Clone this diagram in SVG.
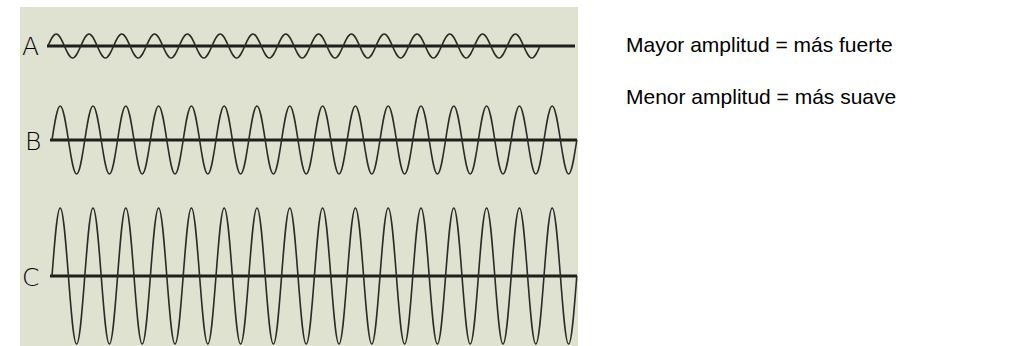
<svg xmlns="http://www.w3.org/2000/svg" width="1036" height="346" viewBox="0 0 1036 346">
<style>
.panel{fill:#e0e2d1}
.base{stroke:#1e1e1a;stroke-width:3;fill:none}
.wave{stroke:#2b2b26;stroke-width:1.6;fill:none}
.lbl{font-family:"DejaVu Sans","Liberation Sans",sans-serif;font-size:25px;fill:#000;font-weight:300}
.txt{font-family:"Liberation Sans",Arial,sans-serif;font-size:21px;fill:#000}
</style>
<rect width="1036" height="346" fill="#ffffff"/>
<rect class="panel" x="20" y="7" width="558" height="339"/>
<g id="wave-A">
<text class="lbl" x="22" y="55">A</text>
<line class="base" x1="47" y1="46" x2="575" y2="46"/>
<path class="wave" d="M48,46 c2.67,-6.15 5.23,-12 8.2,-12 s5.53,5.85 8.2,12 s5.23,12 8.2,12 s5.53,-5.85 8.2,-12 s5.23,-12 8.2,-12 s5.53,5.85 8.2,12 s5.23,12 8.2,12 s5.53,-5.85 8.2,-12 s5.23,-12 8.2,-12 s5.53,5.85 8.2,12 s5.23,12 8.2,12 s5.53,-5.85 8.2,-12 s5.23,-12 8.2,-12 s5.53,5.85 8.2,12 s5.23,12 8.2,12 s5.53,-5.85 8.2,-12 s5.23,-12 8.2,-12 s5.53,5.85 8.2,12 s5.23,12 8.2,12 s5.53,-5.85 8.2,-12 s5.23,-12 8.2,-12 s5.53,5.85 8.2,12 s5.23,12 8.2,12 s5.53,-5.85 8.2,-12 s5.23,-12 8.2,-12 s5.53,5.85 8.2,12 s5.23,12 8.2,12 s5.53,-5.85 8.2,-12 s5.23,-12 8.2,-12 s5.53,5.85 8.2,12 s5.23,12 8.2,12 s5.53,-5.85 8.2,-12 s5.23,-12 8.2,-12 s5.53,5.85 8.2,12 s5.23,12 8.2,12 s5.53,-5.85 8.2,-12 s5.23,-12 8.2,-12 s5.53,5.85 8.2,12 s5.23,12 8.2,12 s5.53,-5.85 8.2,-12 s5.23,-12 8.2,-12 s5.53,5.85 8.2,12 s5.23,12 8.2,12 s5.53,-5.85 8.2,-12 s5.23,-12 8.2,-12 s5.53,5.85 8.2,12 s5.23,12 8.2,12 s5.53,-5.85 8.2,-12 s5.23,-12 8.2,-12 s5.53,5.85 8.2,12 s5.23,12 8.2,12 s5.53,-5.85 8.2,-12 s5.23,-12 8.2,-12 s5.53,5.85 8.2,12 s5.23,12 8.2,12 s5.53,-5.85 8.2,-12 s5.23,-12 8.2,-12 s5.53,5.85 8.2,12 s5.23,12 8.2,12 s5.53,-5.85 8.2,-12"/>
</g>
<g id="wave-B">
<text class="lbl" x="25" y="150">B</text>
<line class="base" x1="50" y1="140" x2="577" y2="140"/>
<path class="wave" d="M52,140 c2.67,-17.42 5.23,-34 8.2,-34 s5.53,16.58 8.2,34 s5.23,34 8.2,34 s5.53,-16.58 8.2,-34 s5.23,-34 8.2,-34 s5.53,16.58 8.2,34 s5.23,34 8.2,34 s5.53,-16.58 8.2,-34 s5.23,-34 8.2,-34 s5.53,16.58 8.2,34 s5.23,34 8.2,34 s5.53,-16.58 8.2,-34 s5.23,-34 8.2,-34 s5.53,16.58 8.2,34 s5.23,34 8.2,34 s5.53,-16.58 8.2,-34 s5.23,-34 8.2,-34 s5.53,16.58 8.2,34 s5.23,34 8.2,34 s5.53,-16.58 8.2,-34 s5.23,-34 8.2,-34 s5.53,16.58 8.2,34 s5.23,34 8.2,34 s5.53,-16.58 8.2,-34 s5.23,-34 8.2,-34 s5.53,16.58 8.2,34 s5.23,34 8.2,34 s5.53,-16.58 8.2,-34 s5.23,-34 8.2,-34 s5.53,16.58 8.2,34 s5.23,34 8.2,34 s5.53,-16.58 8.2,-34 s5.23,-34 8.2,-34 s5.53,16.58 8.2,34 s5.23,34 8.2,34 s5.53,-16.58 8.2,-34 s5.23,-34 8.2,-34 s5.53,16.58 8.2,34 s5.23,34 8.2,34 s5.53,-16.58 8.2,-34 s5.23,-34 8.2,-34 s5.53,16.58 8.2,34 s5.23,34 8.2,34 s5.53,-16.58 8.2,-34 s5.23,-34 8.2,-34 s5.53,16.58 8.2,34 s5.23,34 8.2,34 s5.53,-16.58 8.2,-34 s5.23,-34 8.2,-34 s5.53,16.58 8.2,34 s5.23,34 8.2,34 s5.53,-16.58 8.2,-34 s5.23,-34 8.2,-34 s5.53,16.58 8.2,34 s5.23,34 8.2,34 s5.53,-16.58 8.2,-34 s5.23,-34 8.2,-34 s5.53,16.58 8.2,34 s5.23,34 8.2,34 s5.53,-16.58 8.2,-34 s5.23,-34 8.2,-34 s5.53,16.58 8.2,34 s5.23,34 8.2,34 s5.53,-16.58 8.2,-34"/>
</g>
<g id="wave-C">
<text class="lbl" x="22" y="286">C</text>
<line class="base" x1="50" y1="276" x2="577" y2="276"/>
<path class="wave" d="M52,276 c2.67,-34.84 5.23,-68 8.2,-68 s5.53,33.16 8.2,68 s5.23,68 8.2,68 s5.53,-33.16 8.2,-68 s5.23,-68 8.2,-68 s5.53,33.16 8.2,68 s5.23,68 8.2,68 s5.53,-33.16 8.2,-68 s5.23,-68 8.2,-68 s5.53,33.16 8.2,68 s5.23,68 8.2,68 s5.53,-33.16 8.2,-68 s5.23,-68 8.2,-68 s5.53,33.16 8.2,68 s5.23,68 8.2,68 s5.53,-33.16 8.2,-68 s5.23,-68 8.2,-68 s5.53,33.16 8.2,68 s5.23,68 8.2,68 s5.53,-33.16 8.2,-68 s5.23,-68 8.2,-68 s5.53,33.16 8.2,68 s5.23,68 8.2,68 s5.53,-33.16 8.2,-68 s5.23,-68 8.2,-68 s5.53,33.16 8.2,68 s5.23,68 8.2,68 s5.53,-33.16 8.2,-68 s5.23,-68 8.2,-68 s5.53,33.16 8.2,68 s5.23,68 8.2,68 s5.53,-33.16 8.2,-68 s5.23,-68 8.2,-68 s5.53,33.16 8.2,68 s5.23,68 8.2,68 s5.53,-33.16 8.2,-68 s5.23,-68 8.2,-68 s5.53,33.16 8.2,68 s5.23,68 8.2,68 s5.53,-33.16 8.2,-68 s5.23,-68 8.2,-68 s5.53,33.16 8.2,68 s5.23,68 8.2,68 s5.53,-33.16 8.2,-68 s5.23,-68 8.2,-68 s5.53,33.16 8.2,68 s5.23,68 8.2,68 s5.53,-33.16 8.2,-68 s5.23,-68 8.2,-68 s5.53,33.16 8.2,68 s5.23,68 8.2,68 s5.53,-33.16 8.2,-68 s5.23,-68 8.2,-68 s5.53,33.16 8.2,68 s5.23,68 8.2,68 s5.53,-33.16 8.2,-68 s5.23,-68 8.2,-68 s5.53,33.16 8.2,68 s5.23,68 8.2,68 s5.53,-33.16 8.2,-68 s5.23,-68 8.2,-68 s5.53,33.16 8.2,68 s5.23,68 8.2,68 s5.53,-33.16 8.2,-68"/>
</g>
<g id="captions">
<text class="txt" x="626" y="52">Mayor amplitud = más fuerte</text>
<text class="txt" x="626" y="104">Menor amplitud = más suave</text>
</g>
</svg>
